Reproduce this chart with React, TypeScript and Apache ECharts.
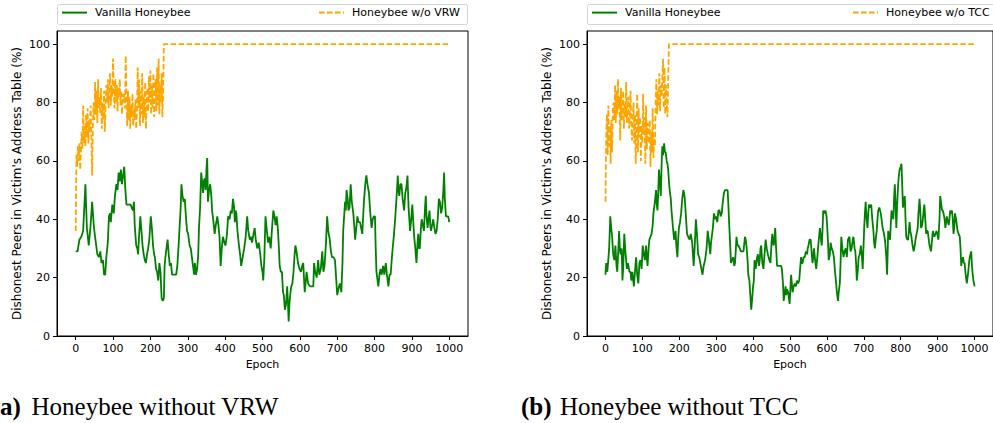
import React, { useEffect, useRef } from "react";
import * as echarts from "echarts";

const X_TICKS = [0, 100, 200, 300, 400, 500, 600, 700, 800, 900, 1000];
const Y_TICKS = [0, 20, 40, 60, 80, 100];

const SERIES_VANILLA = "Vanilla Honeybee";
const SERIES_NO_VRW = "Honeybee w/o VRW";
const SERIES_NO_TCC = "Honeybee w/o TCC";
const Y_LABEL = "Dishonest Peers in Victim's Address Table (%)";
const X_LABEL = "Epoch";
const CAPTION_A_TAG = "a)";
const CAPTION_A = "Honeybee without VRW";
const CAPTION_B_TAG = "(b)";
const CAPTION_B = "Honeybee without TCC";

// ---------- (a) left panel ----------
const LEFT_GREEN_EPOCHS = [
  0, 5, 10, 15, 20, 26, 30, 35, 40, 44, 49, 55, 58, 62, 66, 69, 73, 76, 79, 82, 86, 89, 92, 94, 98,
  102, 105, 109, 112, 115, 118, 121, 124, 127, 130, 133, 136, 140, 144, 147, 150, 153, 156, 158, 162,
  165, 167, 170, 173, 176, 179, 182, 185, 188, 191, 194, 197, 201, 204, 207, 210, 212, 215, 218, 221,
  224, 227, 230, 233, 236, 238, 241, 243, 246, 249, 252, 255, 258, 261, 265, 269, 272, 275, 278, 281,
  283, 286, 289, 292, 295, 298, 301, 305, 308, 311, 314, 317, 319, 322, 325, 328, 330, 333, 336, 339,
  341, 343, 345, 348, 350, 352, 354, 357, 360, 363, 365, 368, 372, 375, 379, 382, 385, 388, 391, 394,
  398, 401, 405, 408, 412, 415, 418, 421, 424, 426, 428, 430, 433, 437, 440, 443, 447, 451, 455, 459,
  462, 466, 469, 472, 476, 479, 482, 486, 490, 494, 497, 500, 502, 505, 508, 511, 515, 518, 522, 525,
  529, 532, 535, 538, 541, 544, 546, 549, 552, 555, 557, 560, 563, 566, 568, 570, 572, 575, 577, 580,
  583, 586, 588, 591, 595, 599, 603, 606, 609, 611, 613, 616, 618, 622, 627, 631, 636, 638, 641, 645,
  649, 652, 656, 660, 663, 666, 670, 673, 676, 680, 683, 686, 690, 694, 697, 700, 703, 707, 711, 714,
  716, 719, 721, 723, 725, 728, 730, 733, 736, 739, 743, 746, 748, 751, 754, 757, 761, 764, 767, 769,
  772, 775, 778, 781, 785, 788, 792, 795, 798, 801, 803, 805, 808, 810, 813, 816, 819, 823, 826, 830,
  833, 837, 840, 843, 847, 852, 855, 857, 860, 862, 864, 866, 869, 872, 875, 879, 882, 884, 886, 888,
  891, 895, 898, 901, 904, 906, 909, 912, 915, 917, 919, 921, 924, 926, 929, 932, 935, 937, 939, 942,
  944, 947, 949, 951, 954, 957, 960, 963, 966, 969, 972, 975, 978, 981, 984, 986, 988, 991, 994, 997,
  1000,
];
const LEFT_GREEN_VALUES = [
  29, 29, 33, 34, 36, 52, 37, 31, 38, 46, 37, 31, 28, 27, 29, 25, 26, 21, 21, 27, 32, 41, 42, 39, 45,
  42, 48, 52, 50, 56, 53, 57, 52, 55, 58, 50, 45, 45, 45, 45, 44, 43, 46, 38, 31,
  30, 28, 35, 41, 36, 31, 28, 26, 25, 28, 30, 33, 41, 37, 31, 28, 27, 23, 22, 19,
  25, 22, 13, 12, 13, 24, 28, 30, 33, 28, 24, 25, 21, 21, 21, 21, 24, 30, 37, 44,
  52, 48, 46, 47, 41, 36, 35, 31, 30, 27, 24, 21, 25, 21, 23, 28, 37, 44, 56, 52,
  49, 53, 54, 50, 57, 61, 46, 50, 52, 48, 43, 40, 35, 38, 41, 38, 34, 24, 30, 34,
  32, 31, 35, 41, 40, 43, 42, 47, 44, 39, 43, 42, 36, 31, 28, 24, 27, 30, 34, 41,
  36, 33, 34, 32, 35, 37, 33, 30, 32, 28, 24, 22, 19, 27, 41, 37, 32, 34, 30, 36,
  43, 41, 38, 41, 37, 30, 24, 22, 22, 15, 14, 9, 11, 17, 12, 5, 11, 15, 17, 18,
  22, 28, 31, 29, 25, 23, 22, 24, 25, 20, 15, 19, 22, 18, 17, 17, 17, 25, 22, 20,
  26, 21, 23, 29, 22, 24, 32, 41, 36, 33, 29, 27, 27, 26, 20, 14, 16, 18, 15, 25,
  36, 42, 46, 43, 50, 47, 43, 44, 52, 46, 42, 37, 33, 37, 41, 39, 39, 37, 35, 40,
  47, 52, 55, 52, 49, 43, 37, 40, 41, 41, 30, 22, 19, 17, 21, 23, 21, 24, 21, 25,
  21, 17, 21, 21, 28, 35, 40, 44, 50, 55, 50, 48, 52, 52, 47, 43, 49, 50, 52, 55,
  44, 36, 40, 45, 38, 34, 30, 25, 32, 35, 30, 30, 37, 40, 38, 36, 44, 48, 41, 37,
  40, 43, 38, 36, 38, 40, 37, 35, 36, 40, 47, 46, 42, 44, 50, 56, 47, 41, 41, 41,
  39,
];

const LEFT_ORANGE_EPOCHS = [
  0, 2, 4, 6, 8, 10, 12, 14, 16, 18, 20, 22, 24, 26, 28, 30, 32, 34, 36, 38, 40, 42, 44, 46, 48, 50,
  52, 54, 56, 58, 60, 62, 64, 66, 68, 70, 72, 74, 76, 78, 80, 82, 84, 86, 88, 90, 92, 94, 96, 98, 100,
  102, 104, 106, 108, 110, 112, 114, 116, 118, 120, 122, 124, 126, 128, 130, 132, 134, 136, 138, 140,
  142, 144, 146, 148, 150, 152, 154, 156, 158, 160, 162, 164, 166, 168, 170, 172, 174, 176, 178, 180,
  182, 184, 186, 188, 190, 192, 194, 196, 198, 200, 202, 204, 206, 208, 210, 212, 214, 216, 218, 220,
  222, 224, 226, 228, 230, 232, 234, 236, 1000,
];
const LEFT_ORANGE_VALUES = [
  36, 62, 58, 65, 60, 66, 57, 63, 70, 64, 79, 66, 72, 65, 76, 68, 78, 66, 74, 70, 79, 68, 55, 72, 80,
  74, 87, 76, 84, 73, 88, 78, 82, 76, 85, 71, 80, 74, 84, 70, 79, 86, 80, 88, 78, 84, 90, 79, 86, 82,
  95, 84, 78, 88, 80, 86, 77, 85, 82, 88, 79, 84, 76, 83, 80, 83, 78, 96, 80, 72, 84, 74, 82, 71, 79,
  75, 83, 72, 78, 74, 81, 71, 77, 92, 78, 88, 72, 84, 76, 90, 73, 82, 75, 87, 71, 80, 85, 77, 89, 80,
  91, 76, 86, 78, 90, 75, 84, 88, 77, 92, 79, 95, 76, 86, 80, 90, 75, 83, 100, 100,
];

// ---------- (b) right panel ----------
const RIGHT_GREEN_EPOCHS = [
  0, 2, 5, 7, 10, 13, 15, 18, 21, 24, 27, 30, 32, 35, 37, 39, 41, 44, 46, 48, 51, 54, 58, 61, 65, 68,
  70, 73, 77, 80, 83, 86, 89, 92, 95, 98, 101, 104, 107, 110, 112, 114, 117, 119, 122, 125, 128, 130,
  132, 134, 137, 139, 141, 143, 145, 148, 150, 152, 154, 156, 159, 161, 163, 166, 168, 170, 172, 174,
  177, 179, 181, 183, 186, 188, 190, 192, 195, 197, 199, 202, 205, 208, 211, 213, 215, 218, 221, 224,
  228, 231, 235, 237, 239, 242, 245, 248, 251, 254, 257, 260, 263, 266, 270, 274, 277, 280, 284, 286,
  288, 291, 294, 297, 300, 303, 306, 309, 312, 315, 318, 321, 324, 327, 331, 333, 335, 338, 340, 343,
  346, 349, 351, 353, 355, 358, 360, 364, 367, 371, 374, 378, 380, 382, 385, 387, 390, 392, 395, 397,
  400, 402, 404, 407, 409, 411, 413, 416, 418, 420, 422, 425, 428, 431, 434, 437, 440, 444, 447, 450,
  452, 454, 456, 458, 460, 462, 465, 468, 472, 476, 478, 481, 483, 485, 488, 490, 492, 495, 497, 499,
  501, 503, 505, 507, 510, 513, 516, 519, 522, 525, 528, 530, 532, 534, 537, 540, 543, 546, 548, 550,
  553, 556, 559, 561, 563, 565, 568, 571, 574, 576, 578, 581, 584, 586, 588, 590, 593, 596, 599, 601,
  603, 605, 608, 610, 613, 616, 619, 622, 625, 627, 630, 632, 635, 637, 639, 642, 645, 648, 651, 654,
  657, 661, 664, 667, 670, 672, 675, 677, 679, 681, 684, 686, 689, 692, 695, 697, 699, 701, 703, 705,
  707, 710, 712, 714, 717, 720, 723, 726, 728, 730, 733, 735, 737, 739, 742, 744, 746, 748, 751, 753,
  756, 758, 761, 763, 765, 766, 769, 771, 773, 775, 778, 780, 782, 784, 786, 788, 790, 793, 795, 797,
  800, 802, 804, 806, 808, 811, 813, 815, 818, 820, 822, 824, 826, 829, 832, 835, 838, 840, 843, 846,
  848, 851, 853, 855, 858, 860, 862, 864, 867, 869, 871, 873, 876, 878, 880, 882, 885, 887, 889, 891,
  894, 897, 899, 902, 905, 907, 909, 912, 914, 916, 919, 921, 923, 925, 928, 930, 932, 934, 936, 939,
  941, 943, 945, 947, 950, 952, 954, 957, 960, 962, 964, 966, 969, 971, 973, 976, 979, 981, 983, 985,
  987, 989, 991, 993, 995, 997, 1000,
];
const RIGHT_GREEN_VALUES = [
  21, 25, 22, 25, 30, 41, 38, 34, 28, 26, 31, 24, 22, 30, 36, 30, 28, 30, 19, 23, 35, 29, 23, 25, 22, 22,
  19, 22, 17, 22, 27, 21, 18, 25, 26, 23, 31, 28, 26, 31, 27, 24, 30, 33, 34, 35, 38, 42,
  44, 46, 50, 45, 43, 49, 57, 52, 48, 58, 65, 62, 66, 63, 63, 60, 59, 57, 53, 50,
  47, 43, 40, 37, 33, 34, 36, 31, 27, 33, 37, 39, 42, 47, 50, 49, 47, 41, 35, 34,
  33, 35, 32, 28, 24, 31, 40, 35, 28, 27, 25, 23, 21, 24, 26, 30, 36, 33, 28, 32,
  34, 37, 42, 40, 41, 39, 43, 43, 41, 42, 46, 49, 50, 50, 50, 45, 39, 31, 25, 26,
  27, 24, 25, 29, 34, 31, 31, 30, 29, 29, 29, 34, 33, 31, 26, 21, 19, 15, 9, 12,
  17, 19, 26, 23, 25, 27, 28, 24, 26, 30, 31, 25, 23, 28, 33, 30, 28, 26, 25, 32,
  35, 32, 31, 34, 37, 31, 24, 24, 24, 24, 23, 18, 12, 14, 17, 14, 16, 15, 13, 11,
  16, 21, 18, 15, 17, 18, 17, 19, 18, 19, 24, 27, 25, 25, 27, 27, 29, 28, 30, 31,
  33, 33, 28, 25, 27, 30, 26, 23, 27, 30, 33, 37, 33, 31, 36, 43, 42, 43, 41, 37,
  32, 26, 28, 32, 30, 29, 27, 22, 18, 15, 12, 15, 18, 25, 34, 30, 27, 29, 30, 27,
  33, 34, 29, 30, 33, 34, 30, 29, 25, 19, 23, 27, 28, 31, 27, 23, 30, 37, 42, 46,
  41, 37, 42, 45, 44, 45, 40, 36, 32, 30, 34, 36, 40, 43, 44, 43, 42, 40, 37, 36,
  34, 32, 27, 21, 30, 36, 34, 33, 38, 43, 41, 40, 47, 52, 45, 37, 44, 52, 55, 57,
  58, 59, 52, 44, 46, 48, 40, 34, 33, 33, 36, 39, 36, 34, 31, 29, 31, 33, 35, 37,
  42, 47, 43, 37, 38, 40, 43, 45, 39, 35, 36, 36, 33, 31, 30, 29, 33, 36, 35, 34,
  35, 36, 35, 33, 40, 48, 46, 43, 43, 42, 40, 37, 39, 41, 39, 38, 40, 43, 42, 43,
  40, 35, 37, 42, 40, 38, 36, 35, 34, 30, 24, 26, 27, 25, 25, 21, 18, 20, 22, 25,
  27, 28, 29, 24, 21, 19, 17,
];

const RIGHT_ORANGE_EPOCHS = [
  0, 2, 4, 6, 8, 10, 12, 14, 16, 18, 20, 22, 24, 26, 28, 30, 32, 34, 36, 38, 40, 42, 44, 46, 48, 50,
  52, 54, 56, 58, 60, 62, 64, 66, 68, 70, 72, 74, 76, 78, 80, 82, 84, 86, 88, 90, 92, 94, 96, 98, 100,
  102, 104, 106, 108, 110, 112, 114, 116, 118, 120, 122, 124, 126, 128, 130, 132, 134, 136, 138, 140,
  142, 144, 146, 148, 150, 152, 154, 156, 158, 160, 162, 164, 166, 168, 170, 172, 1000,
];
const RIGHT_ORANGE_VALUES = [
  46, 68, 76, 62, 79, 65, 72, 59, 74, 63, 78, 80, 74, 86, 73, 84, 76, 88, 78, 82, 67, 85, 74, 78, 84,
  71, 80, 75, 87, 73, 79, 82, 71, 77, 84, 72, 67, 74, 80, 66, 76, 59, 72, 83, 63, 78, 68, 75, 60, 72,
  66, 83, 69, 75, 59, 79, 64, 73, 70, 66, 74, 58, 70, 63, 78, 61, 68, 65, 80, 88, 76, 84, 79, 90, 77,
  86, 82, 88, 95, 78, 92, 76, 86, 80, 75, 88, 100, 100,
];

const FONT = "'DejaVu Sans', sans-serif";
const SERIF = "'Liberation Serif', 'DejaVu Serif', serif";
const GREEN = "#008000";
const ORANGE = "#FFA500";

const zip = (xs: number[], ys: number[]) => xs.map((x, i) => [x, ys[i]]);
const plain = (v: number) => String(v);

function makeAxes(gridIndex: number) {
  const xAxis = {
    gridIndex,
    type: "value",
    min: -50,
    max: 1050,
    name: X_LABEL,
    nameLocation: "middle",
    nameGap: 22,
    nameTextStyle: { fontSize: 11, fontFamily: FONT, color: "#000" },
    axisLine: { show: true, onZero: false, lineStyle: { color: "#000", width: 1 } },
    axisTick: { show: true, length: 4, customValues: X_TICKS, lineStyle: { color: "#000", width: 1 } },
    axisLabel: { customValues: X_TICKS, formatter: plain, margin: 7, fontSize: 11, fontFamily: FONT, color: "#000" },
    splitLine: { show: false },
  };
  const yAxis = {
    gridIndex,
    type: "value",
    min: 0,
    max: 104.5,
    name: Y_LABEL,
    nameLocation: "middle",
    nameGap: 34,
    nameRotate: 90,
    nameTextStyle: { fontSize: 12, fontFamily: FONT, color: "#000" },
    axisLine: { show: true, onZero: false, lineStyle: { color: "#000", width: 1 } },
    axisTick: { show: true, length: 4, customValues: Y_TICKS, lineStyle: { color: "#000", width: 1 } },
    axisLabel: { customValues: Y_TICKS, formatter: plain, margin: 7, fontSize: 11, fontFamily: FONT, color: "#000" },
    splitLine: { show: false },
  };
  return { xAxis, yAxis };
}

export default function App() {
  const ref = useRef<HTMLDivElement>(null);

  useEffect(() => {
    if (!ref.current) return;
    const chart = echarts.init(ref.current, undefined, { renderer: "svg" });
    const a0 = makeAxes(0);
    const a1 = makeAxes(1);

    const greenStyle = { color: GREEN, width: 1.8 };
    const orangeStyle = { color: ORANGE, width: 1.8, type: [5.5, 2.5] as any };

    const legendText = { fontSize: 11, fontFamily: FONT, color: "#000", padding: [0, 0, 0, 3] };
    const legendBase = {
      top: 7,
      padding: 0,
      itemWidth: 25,
      itemHeight: 14,
      selectedMode: false,
      textStyle: legendText,
      itemStyle: { color: "rgba(0,0,0,0)", borderWidth: 0, opacity: 0 },
    };

    chart.setOption({
      animation: false,
      backgroundColor: "#fff",
      grid: [
        { left: 57, top: 31, width: 411, height: 305, show: true, borderColor: "#000", borderWidth: 1, backgroundColor: "transparent" },
        { left: 587, top: 31, width: 411, height: 305, show: true, borderColor: "#000", borderWidth: 1, backgroundColor: "transparent" },
      ],
      xAxis: [a0.xAxis, a1.xAxis],
      yAxis: [a0.yAxis, a1.yAxis],
      legend: [
        { ...legendBase, left: 61, data: [SERIES_VANILLA] },
        { ...legendBase, left: 318, data: [SERIES_NO_VRW] },
        { ...legendBase, left: 591, data: [SERIES_VANILLA] },
        { ...legendBase, left: 852, data: [SERIES_NO_TCC] },
      ],
      graphic: [
        { type: "rect", z: -1, shape: { x: 57.5, y: 4.5, width: 410, height: 20, r: 2 }, style: { fill: "#fff", stroke: "#d4d4d4", lineWidth: 1 } },
        { type: "rect", z: -1, shape: { x: 587.5, y: 4.5, width: 410, height: 20, r: 2 }, style: { fill: "#fff", stroke: "#d4d4d4", lineWidth: 1 } },
        { type: "text", x: 0, y: 406, style: { text: CAPTION_A_TAG, font: `bold 25px ${SERIF}`, fill: "#000", textAlign: "left", textVerticalAlign: "middle" } },
        { type: "text", x: 31.5, y: 406, style: { text: CAPTION_A, font: `25px ${SERIF}`, fill: "#000", textAlign: "left", textVerticalAlign: "middle" } },
        { type: "text", x: 521, y: 406, style: { text: CAPTION_B_TAG, font: `bold 25px ${SERIF}`, fill: "#000", textAlign: "left", textVerticalAlign: "middle" } },
        { type: "text", x: 560, y: 406, style: { text: CAPTION_B, font: `25px ${SERIF}`, fill: "#000", textAlign: "left", textVerticalAlign: "middle" } },
      ],
      series: [
        { type: "line", name: SERIES_VANILLA, xAxisIndex: 0, yAxisIndex: 0, data: zip(LEFT_GREEN_EPOCHS, LEFT_GREEN_VALUES), symbol: "none", showSymbol: false, lineStyle: greenStyle, itemStyle: { color: GREEN } },
        { type: "line", name: SERIES_NO_VRW, xAxisIndex: 0, yAxisIndex: 0, data: zip(LEFT_ORANGE_EPOCHS, LEFT_ORANGE_VALUES), symbol: "none", showSymbol: false, lineStyle: orangeStyle, itemStyle: { color: ORANGE } },
        { type: "line", name: SERIES_VANILLA, xAxisIndex: 1, yAxisIndex: 1, data: zip(RIGHT_GREEN_EPOCHS, RIGHT_GREEN_VALUES), symbol: "none", showSymbol: false, lineStyle: greenStyle, itemStyle: { color: GREEN } },
        { type: "line", name: SERIES_NO_TCC, xAxisIndex: 1, yAxisIndex: 1, data: zip(RIGHT_ORANGE_EPOCHS, RIGHT_ORANGE_VALUES), symbol: "none", showSymbol: false, lineStyle: orangeStyle, itemStyle: { color: ORANGE } },
      ],
    });
    return () => chart.dispose();
  }, []);

  return (
    <div
      ref={ref}
      style={{ position: "fixed", left: 0, top: 0, width: 993, height: 423, background: "#fff" }}
    />
  );
}
